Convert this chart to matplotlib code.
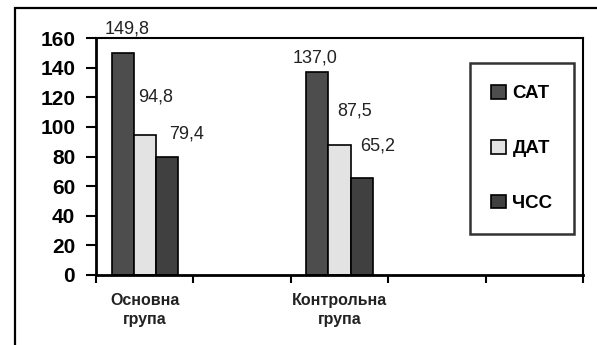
import matplotlib
matplotlib.use("Agg")
import matplotlib.pyplot as plt
from matplotlib.patches import Rectangle, Patch
import numpy as np

plt.rcParams['font.family'] = ['Liberation Sans', 'DejaVu Sans']

categories = ["Основна\nгрупа", "Контрольна\nгрупа"]
series_names = ["САТ", "ДАТ", "ЧСС"]
sat = [149.8, 137.0]
dat = [94.8, 87.5]
chss = [79.4, 65.2]
value_labels = [["149,8", "137,0"], ["94,8", "87,5"], ["79,4", "65,2"]]
y_ticks = [0, 20, 40, 60, 80, 100, 120, 140, 160]

# layout / style
slots = [0, 2]          # category slots among 5 on the axis
n_slots = 5
colors = ["#4d4d4d", "#e3e3e3", "#404040"]
bar_w = 0.226
# per-label offsets in points (dx, dy) relative to bar top centre
offsets = [[(3.5, 17.5), (-1.5, 10)], [(8, 27), (11, 25)], [(14, 17), (11.5, 23)]]

fig = plt.figure(figsize=(5.97, 3.45), dpi=100)
ax = fig.add_axes([96/597, 1-275/345, (583-96)/597, (275-38)/345])

# outer frame
fig.patches.append(Rectangle((15/597, -0.1), 1.2, 1.1 - 8/345, transform=fig.transFigure,
                             fill=False, edgecolor='black', linewidth=1.6))

all_series = [sat, dat, chss]
x = np.array(slots, dtype=float)
for i, (vals, c) in enumerate(zip(all_series, colors)):
    xs = x + (i - 1) * bar_w
    ax.bar(xs, vals, width=bar_w, color=c, edgecolor='black', linewidth=1.2, label=series_names[i], zorder=2)
    for j, v in enumerate(vals):
        dx, dy = offsets[i][j]
        ax.annotate(value_labels[i][j], (xs[j], v), xytext=(dx, dy), textcoords='offset points',
                    ha='center', va='center', fontsize=13, color='#222222', annotation_clip=False)

ax.set_xlim(-0.5, n_slots - 0.5)
ax.set_ylim(0, 160)
ax.set_yticks(y_ticks)
ax.set_yticklabels([str(t) for t in y_ticks], fontsize=15, fontweight='bold')
ax.set_xticks(slots)
ax.set_xticklabels(categories, fontsize=11.5, fontweight='bold', linespacing=1.3, color='#222222')
ax.set_xticks(np.arange(-0.5, n_slots, 1.0), minor=True)
ax.tick_params(axis='x', which='major', length=0, pad=13)
ax.tick_params(axis='x', which='minor', length=6, width=1.5, direction='out')
ax.tick_params(axis='y', length=7, width=1.5, direction='out', pad=8)
for s in ax.spines.values():
    s.set_linewidth(1.5)
ax.spines['left'].set_linewidth(2)
ax.spines['bottom'].set_linewidth(2)

handles = [Patch(facecolor=c, edgecolor='black', linewidth=1.2) for c in colors]
leg = fig.legend(handles, series_names, loc='center', bbox_to_anchor=(522/597, 1-148.5/345),
                 bbox_transform=fig.transFigure, prop={'weight': 'bold', 'size': 13.5},
                 frameon=True, fancybox=False, borderpad=1.15, labelspacing=2.0,
                 handlelength=0.75, handleheight=0.75, handletextpad=0.37, borderaxespad=0)
leg.get_frame().set_edgecolor('black')
leg.get_frame().set_linewidth(1.8)

fig.savefig("out.png", dpi=100)
